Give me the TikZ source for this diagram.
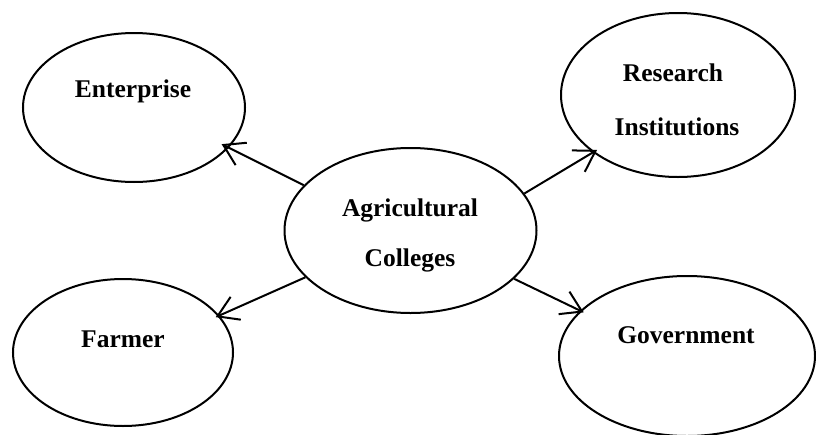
\documentclass[tikz,border=0pt]{standalone}
\usepackage{fontspec}
\setmainfont{Liberation Serif}
\usetikzlibrary{shapes.geometric,arrows.meta}
\tikzset{
  oval/.style={draw=black, ellipse, line width=2pt, inner sep=0pt},
  lbl/.style={font=\fontsize{25.5}{30}\selectfont\bfseries, inner sep=0pt, anchor=center},
  link/.style={line width=2pt, -{Straight Barb[length=20pt,width=25pt,line width=2pt]}}
}
\begin{document}
\begin{tikzpicture}[x=1pt,y=-1pt]
\useasboundingbox[fill=white] (0,0) rectangle (816,434);
% ellipses
\node[oval, minimum width=222pt, minimum height=149pt] (ent) at (134,107.5) {};
\node[oval, minimum width=234pt, minimum height=164pt] (res) at (678,95) {};
\node[oval, minimum width=252pt, minimum height=165pt] (agr) at (410.5,230.5) {};
\node[oval, minimum width=220pt, minimum height=147pt] (far) at (123,352.5) {};
\node[oval, minimum width=256pt, minimum height=160pt] (gov) at (687,356) {};
% texts
\node[lbl] (entT) at (133,91) {Enterprise};
\node[lbl] (resT1) at (673,73) {Research};
\node[lbl] (resT2) at (677,127) {Institutions};
\node[lbl] (agrT1) at (410,210) {Agricultural};
\node[lbl] (agrT2) at (410,260) {Colleges};
\node[lbl] (farT) at (123,339) {Farmer};
\node[lbl] (govT) at (686,335) {Government};
% connectors
\draw[link, shorten >=-8pt] (agr.157.8) -- (ent.-23.5);
\draw[link, shorten >=-5pt] (agr.18.6) -- (res.214.6);
\draw[link, shorten >=-4pt] (agr.204) -- (far.21);
\draw[link, shorten >=-4pt] (agr.-25.5) -- (gov.157.5);
\end{tikzpicture}
\end{document}
